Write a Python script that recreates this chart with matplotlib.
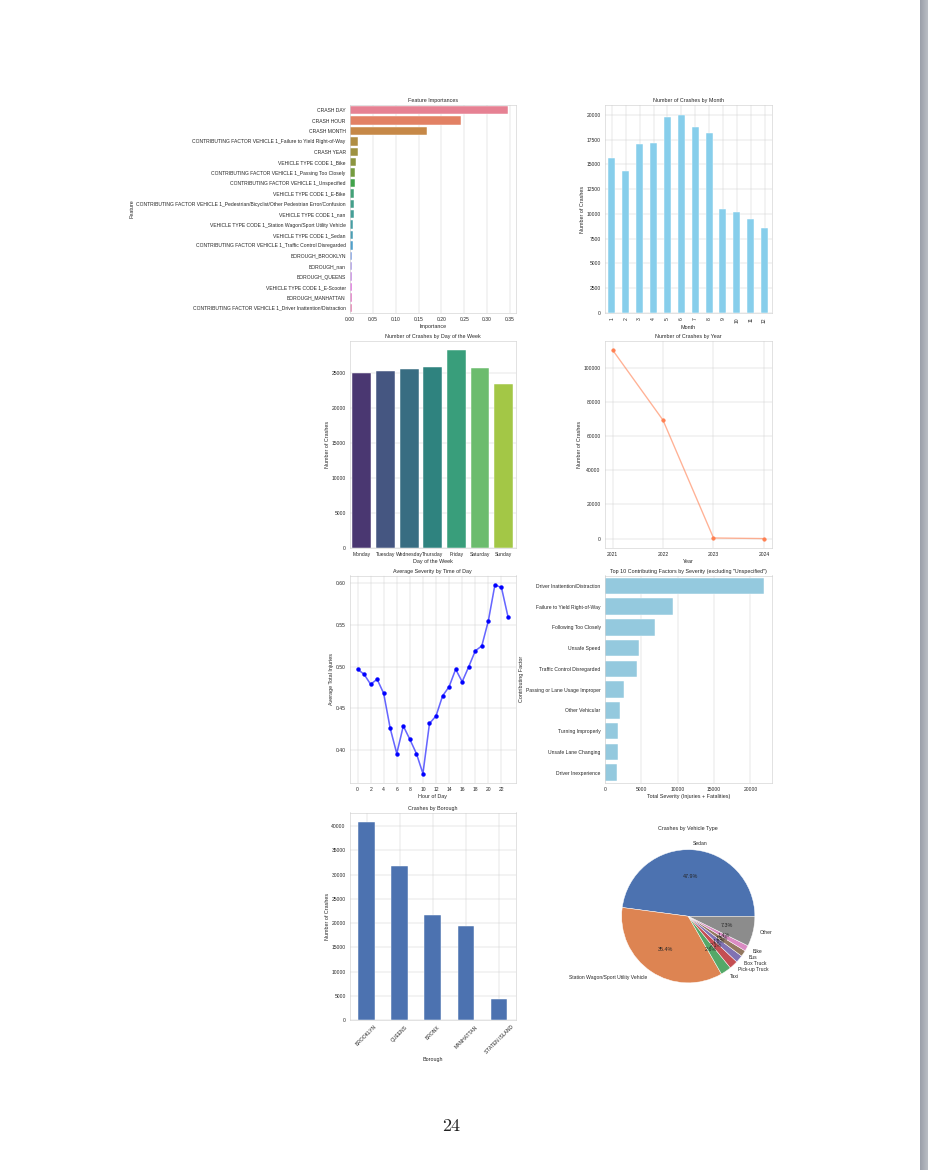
import numpy as np
import matplotlib
matplotlib.use('Agg')
import matplotlib.pyplot as plt
import seaborn as sns

W, H = 928, 1170
DPI = 32.5

# feature importances
features = [
    'CRASH DAY', 'CRASH HOUR', 'CRASH MONTH',
    'CONTRIBUTING FACTOR VEHICLE 1_Failure to Yield Right-of-Way',
    'CRASH YEAR', 'VEHICLE TYPE CODE 1_Bike',
    'CONTRIBUTING FACTOR VEHICLE 1_Passing Too Closely',
    'CONTRIBUTING FACTOR VEHICLE 1_Unspecified',
    'VEHICLE TYPE CODE 1_E-Bike',
    'CONTRIBUTING FACTOR VEHICLE 1_Pedestrian/Bicyclist/Other Pedestrian Error/Confusion',
    'VEHICLE TYPE CODE 1_nan',
    'VEHICLE TYPE CODE 1_Station Wagon/Sport Utility Vehicle',
    'VEHICLE TYPE CODE 1_Sedan',
    'CONTRIBUTING FACTOR VEHICLE 1_Traffic Control Disregarded',
    'BOROUGH_BROOKLYN', 'BOROUGH_nan', 'BOROUGH_QUEENS',
    'VEHICLE TYPE CODE 1_E-Scooter', 'BOROUGH_MANHATTAN',
    'CONTRIBUTING FACTOR VEHICLE 1_Driver Inattention/Distraction',
]
importances = [0.345, 0.243, 0.168, 0.018, 0.017, 0.013, 0.011, 0.010, 0.009, 0.008,
               0.008, 0.007, 0.007, 0.006, 0.005, 0.005, 0.005, 0.005, 0.005, 0.005]

# crashes by month
months = list(range(1, 13))
month_counts = [15600, 14300, 17100, 17200, 19750, 20000, 18750, 18150, 10450, 10200, 9450, 8550]

# crashes by day of week
days = ['Monday', 'Tuesday', 'Wednesday', 'Thursday', 'Friday', 'Saturday', 'Sunday']
day_counts = [25050, 25350, 25620, 25960, 28300, 25720, 23450]

# crashes by year
years = [2021, 2022, 2023, 2024]
year_counts = [110400, 69300, 400, 50]

# average severity by hour
hours = list(range(24))
severity = [0.497, 0.491, 0.479, 0.485, 0.468, 0.426, 0.396, 0.429, 0.413, 0.396,
            0.372, 0.432, 0.441, 0.465, 0.476, 0.497, 0.482, 0.500, 0.519, 0.525,
            0.555, 0.598, 0.595, 0.560]

# top contributing factors
factors = ['Driver Inattention/Distraction', 'Failure to Yield Right-of-Way',
           'Following Too Closely', 'Unsafe Speed', 'Traffic Control Disregarded',
           'Passing or Lane Usage Improper', 'Other Vehicular', 'Turning Improperly',
           'Unsafe Lane Changing', 'Driver Inexperience']
factor_severity = [21800, 9380, 6900, 4740, 4370, 2670, 2120, 1840, 1750, 1660]

# crashes by borough
boroughs = ['BROOKLYN', 'QUEENS', 'BRONX', 'MANHATTAN', 'STATEN ISLAND']
borough_counts = [40750, 31700, 21600, 19300, 4430]

# crashes by vehicle type
vehicle_types = ['Sedan', 'Station Wagon/Sport Utility Vehicle', 'Taxi', 'Pick-up Truck',
                 'Box Truck', 'Bus', 'Bike', 'Other']
vehicle_share = [47.9, 35.4, 2.6, 2.1, 1.8, 1.5, 1.4, 7.3]

sns.set_theme(style='whitegrid', context='notebook')
plt.rcParams['font.family'] = ['Liberation Sans', 'DejaVu Sans']


def box(l, t, r, b):
    return [l / W, 1 - b / H, (r - l) / W, (b - t) / H]


fig = plt.figure(figsize=(W / DPI, H / DPI), dpi=DPI)
fig.patch.set_facecolor('white')

LX = (350, 515.5)
RX = (605, 771.5)
ROWS = [(105, 313), (340.5, 548), (575.5, 783), (812.5, 1020)]

# 1. feature importances
ax = fig.add_axes(box(LX[0], ROWS[0][0], LX[1], ROWS[0][1]))
sns.barplot(x=importances, y=features, hue=features, palette='husl', legend=False, ax=ax)
ax.set_title('Feature Importances')
ax.set_xlabel('Importance')
ax.set_ylabel('Feature')
ax.set_xticks(np.arange(0, 0.36, 0.05))

# 2. month
ax = fig.add_axes(box(RX[0], ROWS[0][0], RX[1], ROWS[0][1]))
ax.bar(range(len(months)), month_counts, width=0.5, color='skyblue')
ax.set_xticks(range(len(months)))
ax.set_xticklabels(months, rotation=90)
ax.set_xlim(-0.5, len(months) - 0.5)
ax.set_yticks(np.arange(0, 20001, 2500))
ax.set_title('Number of Crashes by Month')
ax.set_xlabel('Month')
ax.set_ylabel('Number of Crashes')

# 3. day of week
ax = fig.add_axes(box(LX[0], ROWS[1][0], LX[1], ROWS[1][1]))
sns.barplot(x=days, y=day_counts, hue=days, palette='viridis', legend=False, ax=ax)
ax.set_title('Number of Crashes by Day of the Week')
ax.set_xlabel('Day of the Week')
ax.set_ylabel('Number of Crashes')

# 4. year
ax = fig.add_axes(box(RX[0], ROWS[1][0], RX[1], ROWS[1][1]))
ax.plot(years, year_counts, color='coral', alpha=0.6, linewidth=3)
ax.plot(years, year_counts, 'o', color='coral', markersize=8)
ax.set_xticks(years)
ax.set_title('Number of Crashes by Year')
ax.set_xlabel('Year')
ax.set_ylabel('Number of Crashes')

# 5. severity by hour
ax = fig.add_axes(box(LX[0], ROWS[2][0], LX[1], ROWS[2][1]))
ax.plot(hours, severity, color='blue', alpha=0.6, linewidth=3.5)
ax.plot(hours, severity, 'o', color='blue', markersize=8.5)
ax.set_xticks(range(0, 24, 2))
ax.set_yticks([0.40, 0.45, 0.50, 0.55, 0.60])
ax.set_title('Average Severity by Time of Day')
ax.set_xlabel('Hour of Day')
ax.set_ylabel('Average Total Injuries')

# 6. top factors
ax = fig.add_axes(box(RX[0], ROWS[2][0], RX[1], ROWS[2][1]))
sns.barplot(x=factor_severity, y=factors, color='skyblue', ax=ax)
ax.set_title('Top 10 Contributing Factors by Severity (excluding "Unspecified")')
ax.set_xlabel('Total Severity (Injuries + Fatalities)')
ax.set_ylabel('Contributing Factor')

# 7. borough
ax = fig.add_axes(box(LX[0], ROWS[3][0], LX[1], ROWS[3][1]))
ax.bar(range(len(boroughs)), borough_counts, width=0.5, color='#4C72B0')
ax.set_xticks(range(len(boroughs)))
ax.set_xticklabels(boroughs, rotation=45)
ax.set_xlim(-0.5, len(boroughs) - 0.5)
ax.set_title('Crashes by Borough')
ax.set_xlabel('Borough')
ax.set_ylabel('Number of Crashes')

# 8. vehicle type pie
ax = fig.add_axes(box(RX[0], ROWS[3][0], RX[1], ROWS[3][1]))
ax.pie(vehicle_share, labels=vehicle_types, autopct='%1.1f%%',
       colors=sns.color_palette('deep', len(vehicle_types)))
ax.set_aspect('equal')
ax.set_title('Crashes by Vehicle Type')

# page number and scrollbar edge
fig.text(451 / W, 1 - 1126 / H, '24', family='cmr10', fontsize=40,
         ha='center', va='center', color='#222222')
sb = fig.add_axes([920 / W, 0, 8 / W, 1])
sb.imshow(np.linspace(0, 1, 16).reshape(1, -1), aspect='auto',
          cmap=matplotlib.colors.LinearSegmentedColormap.from_list('sb', ['#9ba0aa', '#b9bdc4']))
sb.axis('off')

fig.savefig('out.png', dpi=DPI)
